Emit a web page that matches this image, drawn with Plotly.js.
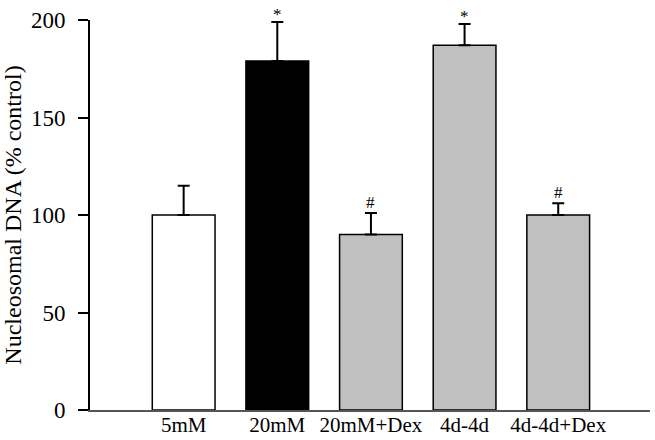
<!DOCTYPE html>
<html>
<head>
<meta charset="utf-8">
<script src="https://cdn.plot.ly/plotly-3.0.1.min.js"></script>
<style>html,body{margin:0;padding:0;background:#fff;}#chart{width:655px;height:440px;}</style>
</head>
<body>
<div id="chart"></div>
<script>
const categories = ["5mM", "20mM", "20mM+Dex", "4d-4d", "4d-4d+Dex"];
const values = [100, 179, 90, 187, 100];
const errors = [15, 20, 11, 11, 6];
const markers = ["", "*", "#", "*", "#"];
const barColors = ["#ffffff", "#000000", "#c0c0c0", "#c0c0c0", "#c0c0c0"];
const yTicks = [0, 50, 100, 150, 200];

const serif = "Liberation Serif, Times New Roman, serif";

const trace = {
  type: "bar",
  x: categories,
  y: values,
  width: 0.67,
  marker: { color: barColors, line: { color: "#000", width: 1.5 } },
  error_y: { type: "data", array: errors, arrayminus: errors.map(() => 0), symmetric: false,
             color: "#000", thickness: 2, width: 6 },
  hoverinfo: "none"
};

const annotations = categories.map((c, i) => markers[i] ? {
  x: c, y: values[i] + errors[i], text: markers[i], showarrow: false,
  yanchor: "middle", yshift: markers[i] === "*" ? 7 : 11,
  font: { family: serif, size: 17, color: "#000" }
} : null).filter(a => a);

const layout = {
  width: 655, height: 440,
  margin: { l: 90, r: 5, t: 20, b: 30 },
  paper_bgcolor: "#fff", plot_bgcolor: "#fff",
  showlegend: false,
  font: { family: serif, color: "#000" },
  xaxis: {
    type: "category", range: [-1, 4.98],
    showline: true, linecolor: "#555", linewidth: 1.5,
    ticks: "", showgrid: false, zeroline: false,
    ticklabelstandoff: -5,
    tickfont: { family: serif, size: 21, color: "#000" }
  },
  yaxis: {
    range: [0, 200], tickvals: yTicks, ticktext: yTicks.map(String),
    showline: true, linecolor: "#000", linewidth: 2,
    ticks: "outside", ticklen: 10, tickwidth: 2, tickcolor: "#000",
    ticklabelstandoff: 8,
    showgrid: false, zeroline: false,
    tickfont: { family: serif, size: 23, color: "#000" },
    title: { text: "Nucleosomal DNA (% control)", font: { family: serif, size: 24, color: "#000" }, standoff: 6 }
  },
  annotations: annotations
};

Plotly.newPlot("chart", [trace], layout, { staticPlot: true, displayModeBar: false });
</script>
</body>
</html>
